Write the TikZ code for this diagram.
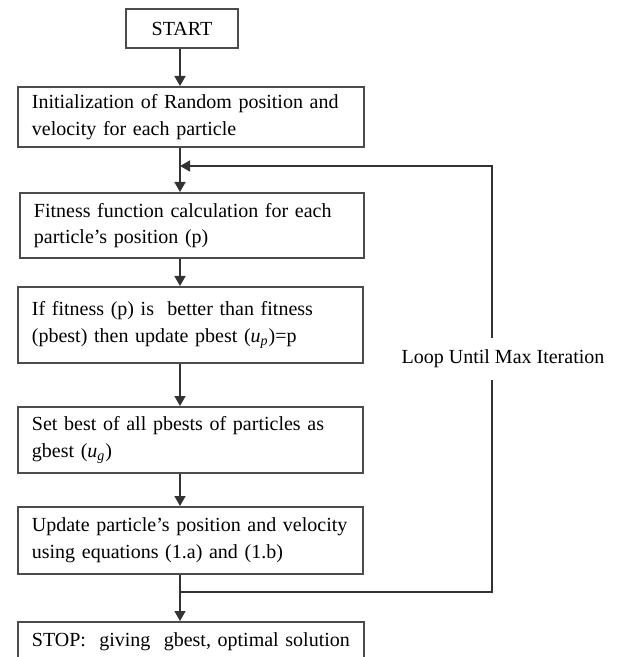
\documentclass[tikz,border=0pt]{standalone}
\usepackage{fontspec}
\setmainfont{Liberation Serif}
\usetikzlibrary{arrows.meta}
\begin{document}
\begin{tikzpicture}[x=0.5pt,y=-0.5pt,
  txtfont/.style={font=\fontsize{10}{13.25}\selectfont},
  box/.style={draw=black!70, line width=0.9pt, rectangle, inner xsep=7pt, inner ysep=0pt,
    align=left, txtfont, anchor=north west, text=black},
  arr/.style={draw=black!80, line width=0.8pt, -{Triangle[width=5.5pt,length=5pt]}},
  ]
\useasboundingbox (0,0) rectangle (616,657);
\clip (0,0) rectangle (616,657);
\fill[white] (0,0) rectangle (616,657);

\node[draw=black!70, line width=0.9pt, txtfont, minimum width=56pt, minimum height=19.5pt, inner sep=0pt] (start) at (182,28.5) {START};

\node[box, text width=159pt, minimum height=30pt] (init) at (17,86)
  {Initialization of Random position and\\velocity for each particle};
\node[box, text width=158pt, minimum height=32.5pt] (fit) at (19,192)
  {Fitness function calculation for each\\particle's position (p)};
\node[box, text width=158.5pt, minimum height=38pt] (iff) at (17,286)
  {If fitness (p) is~ better than fitness\\(pbest) then update pbest (\textit{u}\textsubscript{\textit{p}})=p};
\node[box, text width=158.5pt, minimum height=33pt] (setb) at (17,406)
  {Set best of all pbests of particles as\\gbest (\textit{u}\textsubscript{\textit{g}})};
\node[box, text width=158.5pt, minimum height=33.5pt] (upd) at (17,506)
  {Update particle's position and velocity\\using equations (1.a) and (1.b)};
\node[box, text width=159pt, minimum height=19.5pt] (stop) at (17,621)
  {STOP:~ giving~ gbest, optimal solution};

\coordinate (spine) at (180,0);
\draw[arr] (start.south -| spine) -- (init.north -| spine);
\draw[arr] (init.south -| spine) -- (fit.north -| spine);
\draw[arr] (fit.south -| spine) -- (iff.north -| spine);
\draw[arr] (iff.south -| spine) -- (setb.north -| spine);
\draw[arr] (setb.south -| spine) -- (upd.north -| spine);
\draw[arr] (upd.south -| spine) -- (stop.north -| spine);

\coordinate (jb) at (180,592);
\coordinate (jt) at (180,166);
\coordinate (rx) at (492,0);
\draw[arr] (jb) -| (rx |- jt) -- (jt);
\node[fill=white, txtfont, text=black, inner xsep=1pt, inner ysep=0pt, minimum height=21pt] (lbl) at (503,359) {Loop Until Max Iteration};
\end{tikzpicture}
\end{document}
